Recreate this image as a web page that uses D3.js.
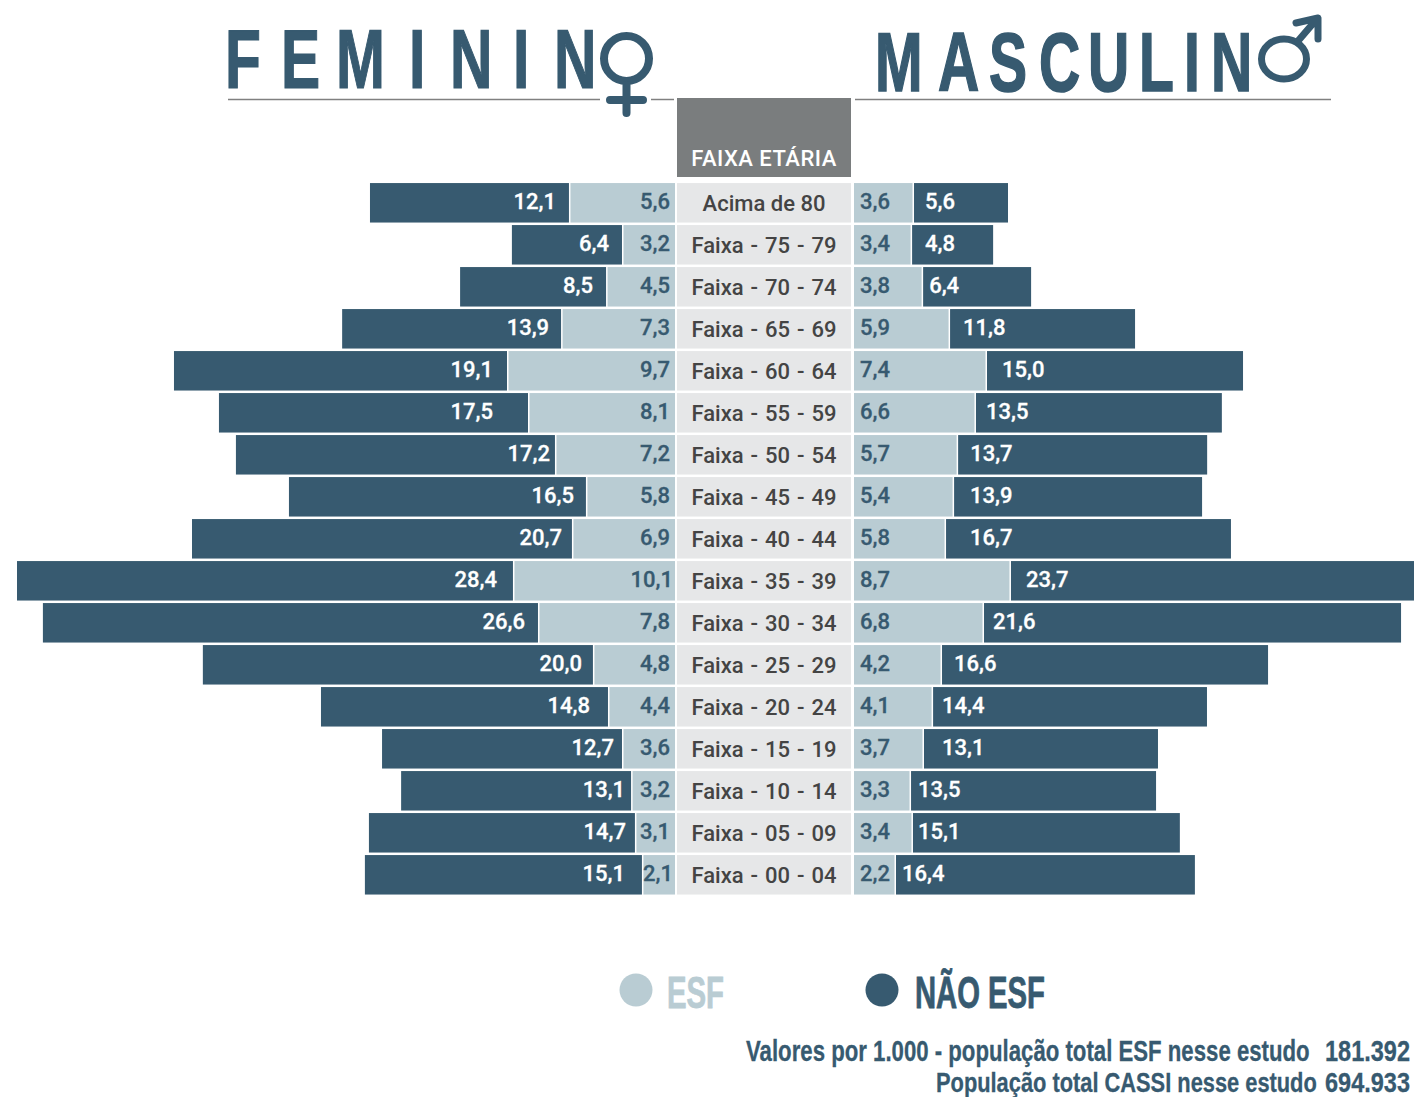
<!DOCTYPE html>
<html>
<head>
<meta charset="utf-8">
<script src="https://cdnjs.cloudflare.com/ajax/libs/d3/7.8.5/d3.min.js"></script>
<style>
  html, body { margin: 0; padding: 0; background: #fff; overflow: hidden; }
  svg { display: block; }
  text { font-family: Roboto, sans-serif; }
  .narrow { font-family: "Liberation Sans Narrow", sans-serif; font-weight: 700; }
</style>
</head>
<body>
<div id="chart"></div>
<script>
const ageGroups = ['Acima de 80', 'Faixa - 75 - 79', 'Faixa - 70 - 74', 'Faixa - 65 - 69', 'Faixa - 60 - 64',
  'Faixa - 55 - 59', 'Faixa - 50 - 54', 'Faixa - 45 - 49', 'Faixa - 40 - 44', 'Faixa - 35 - 39', 'Faixa - 30 - 34',
  'Faixa - 25 - 29', 'Faixa - 20 - 24', 'Faixa - 15 - 19', 'Faixa - 10 - 14', 'Faixa - 05 - 09', 'Faixa - 00 - 04'];

// Printed values
const femEsf = [5.6, 3.2, 4.5, 7.3, 9.7, 8.1, 7.2, 5.8, 6.9, 10.1, 7.8, 4.8, 4.4, 3.6, 3.2, 3.1, 2.1];
const femNaoEsf = [12.1, 6.4, 8.5, 13.9, 19.1, 17.5, 17.2, 16.5, 20.7, 28.4, 26.6, 20.0, 14.8, 12.7, 13.1, 14.7, 15.1];
const masEsf = [3.6, 3.4, 3.8, 5.9, 7.4, 6.6, 5.7, 5.4, 5.8, 8.7, 6.8, 4.2, 4.1, 3.7, 3.3, 3.4, 2.2];
const masNaoEsf = [5.6, 4.8, 6.4, 11.8, 15.0, 13.5, 13.7, 13.9, 16.7, 23.7, 21.6, 16.6, 14.4, 13.1, 13.5, 15.1, 16.4];

// The original bars are not in proportion to their printed numbers,
// so these are the lengths, in the same units.
const femEsfDrawn = [6.06, 3.03, 3.94, 6.51, 9.6, 8.4, 6.86, 5.09, 5.89, 9.26, 7.83, 4.69, 3.83, 3.03, 2.51, 2.29, 1.89];
const femNaoEsfDrawn = [11.37, 6.29, 8.34, 12.51, 19.03, 17.66, 18.23, 16.97, 21.71, 28.34, 28.29, 22.29, 16.4, 13.71, 13.14, 15.2, 15.83];
const masEsfDrawn = [3.43, 3.32, 3.95, 5.49, 7.6, 6.97, 5.95, 5.72, 5.26, 8.97, 7.43, 5.03, 4.52, 4.0, 3.26, 3.37, 2.4];
const masNaoEsfDrawn = [5.37, 4.63, 6.17, 10.57, 14.63, 14.05, 14.23, 14.17, 16.28, 23.7, 23.83, 18.63, 15.65, 13.37, 14.0, 15.25, 17.08];

const legendLabels = ['ESF', 'NÃO ESF'];
// the final O of each title is the gender symbol
const titleFem = 'FEMININ';
const titleMas = 'MASCULIN';
const noteLines = ['Valores por 1.000 - população total ESF nesse estudo', '181.392', 'População total CASSI nesse estudo', '694.933'];

const DARK = '#375a70';
const LIGHT = '#b9ccd3';
const CELL = '#e6e7e8';

const width = 1414;
const height = 1097;

// label gap to the dark bar's inner edge, it changes row by row in the original
const femLabelPad = [13, 13, 13, 12, 14, 35, 5, 12, 10, 16, 13, 11, 18, 8, 6, 9, 17];
const masLabelPad = [11, 13, 6, 13, 15, 10, 12, 16, 24, 15, 9, 12, 9, 18, 7, 5, 6];

const svg = d3.select('#chart')
  .append('svg')
  .attr('width', width)
  .attr('height', height);

const ptBR = d3.formatLocale({decimal: ',', thousands: '.', grouping: [3], currency: ['', '']});
const fmt = ptBR.format('.1f');

const y = d3.scaleBand()
  .domain(ageGroups)
  .range([181.8, 181.8 + 42 * 17])
  .paddingInner(0.06)
  .paddingOuter(0.03);

const xFem = d3.scaleLinear().domain([0, 40]).range([675, -25]);
const xMas = d3.scaleLinear().domain([0, 40]).range([854, 1554]);

const rows = ageGroups.map((name, i) => ({name, i}));

function bars(cls, fill, xOf, wOf) {
  svg.append('g')
    .attr('class', cls)
    .selectAll('rect')
    .data(rows)
    .join('rect')
    .attr('x', xOf)
    .attr('y', (d) => y(d.name))
    .attr('width', wOf)
    .attr('height', y.bandwidth())
    .attr('fill', fill);
}

const GAP = 1.5;
bars('fem-nao', DARK,
  (d) => xFem(femEsfDrawn[d.i] + femNaoEsfDrawn[d.i]),
  (d) => xFem(femEsfDrawn[d.i]) - xFem(femEsfDrawn[d.i] + femNaoEsfDrawn[d.i]));
bars('fem-esf', LIGHT,
  (d) => xFem(femEsfDrawn[d.i]) + GAP,
  (d) => xFem(0) - xFem(femEsfDrawn[d.i]) - GAP);
bars('mas-esf', LIGHT,
  () => xMas(0),
  (d) => xMas(masEsfDrawn[d.i]) - xMas(0) - GAP);
bars('mas-nao', DARK,
  (d) => xMas(masEsfDrawn[d.i]),
  (d) => xMas(masEsfDrawn[d.i] + masNaoEsfDrawn[d.i]) - xMas(masEsfDrawn[d.i]));

// Central column
svg.append('rect')
  .attr('x', 677).attr('y', 98).attr('width', 174).attr('height', 79)
  .attr('fill', '#7a7d7e');
svg.append('text')
  .attr('x', 764).attr('y', 166)
  .attr('text-anchor', 'middle')
  .attr('fill', '#fff')
  .attr('font-size', 22).attr('font-weight', 500)
  .attr('letter-spacing', 0.5)
  .text('FAIXA ETÁRIA');

svg.append('g')
  .selectAll('rect')
  .data(rows)
  .join('rect')
  .attr('x', 677)
  .attr('y', (d) => y(d.name))
  .attr('width', 174)
  .attr('height', y.bandwidth())
  .attr('fill', CELL);

svg.append('g')
  .selectAll('text')
  .data(rows)
  .join('text')
  .attr('x', 764)
  .attr('y', (d) => y(d.name) + 28)
  .attr('text-anchor', 'middle')
  .attr('fill', '#444')
  .attr('font-size', 22).attr('font-weight', 500)
  .attr('word-spacing', (d) => d.i === 0 ? 0 : 1.5)
  .text((d) => d.name);

// Value labels
function labels(fill, anchor, xOf, valueOf) {
  svg.append('g')
    .selectAll('text')
    .data(rows)
    .join('text')
    .attr('x', xOf)
    .attr('y', (d) => y(d.name) + 26)
    .attr('text-anchor', anchor)
    .attr('fill', fill)
    .attr('stroke', fill)
    .attr('stroke-width', 0.3)
    .attr('font-size', 22).attr('font-weight', 500)
    .text(valueOf);
}

labels('#fff', 'end', (d) => xFem(femEsfDrawn[d.i]) - femLabelPad[d.i], (d) => fmt(femNaoEsf[d.i]));
labels(DARK, 'end', (d) => femEsf[d.i] >= 10 || d.i === 16 ? 673 : 670, (d) => fmt(femEsf[d.i]));
labels(DARK, 'start', () => 860, (d) => fmt(masEsf[d.i]));
labels('#fff', 'start', (d) => xMas(masEsfDrawn[d.i]) + masLabelPad[d.i], (d) => fmt(masNaoEsf[d.i]));

// Titles, one x per letter since the fonts here are not the original's
const femLetterX = [225, 281, 336, 409, 450, 513, 554];
const masLetterX = [875, 938, 989, 1039, 1088, 1139, 1184, 1211];

function title(str, xs, baseline, size, sx, weight) {
  svg.append('g')
    .attr('transform', `translate(0,${baseline}) scale(${sx},1)`)
    .append('text')
    .attr('class', 'narrow')
    .attr('fill', DARK)
    .attr('stroke', DARK)
    .attr('stroke-width', weight)
    .attr('font-size', size)
    .attr('x', xs.map((v) => v / sx).join(' '))
    .text(str);
}
title(titleFem, femLetterX, 87.5, 84, 0.7, 1.2);
title(titleMas, masLetterX, 91, 84, 0.68, 1.6);

// Rules under the titles
const rule = [[228, 600], [651, 674], [855, 1331]];
svg.append('g')
  .selectAll('line')
  .data(rule)
  .join('line')
  .attr('x1', (d) => d[0]).attr('x2', (d) => d[1])
  .attr('y1', 99.5).attr('y2', 99.5)
  .attr('stroke', '#808080')
  .attr('stroke-width', 1.5);

// Venus
const venus = svg.append('g')
  .attr('fill', 'none')
  .attr('stroke', DARK)
  .attr('stroke-width', 8)
  .attr('stroke-linecap', 'round');
venus.append('circle').attr('cx', 626.5).attr('cy', 58.5).attr('r', 22.5);
venus.append('path').attr('d', 'M626.5 85V113M610 100H643');

// Mars
const mars = svg.append('g')
  .attr('fill', 'none')
  .attr('stroke', DARK)
  .attr('stroke-width', 7)
  .attr('stroke-linecap', 'round')
  .attr('stroke-linejoin', 'round');
mars.append('ellipse').attr('cx', 1284).attr('cy', 59).attr('rx', 22.5).attr('ry', 20);
mars.append('path').attr('d', 'M1298 41L1316 20M1296 23L1318 18L1318 39');

// squeeze narrow text to the width it has in the original
function fitNarrow(sel, xOf, yOf, widthOf) {
  sel.each(function(d, i) {
    const natural = this.getComputedTextLength();
    d3.select(this).attr('transform', `translate(${xOf(i)},${yOf(i)}) scale(${widthOf(i) / natural},1)`);
  });
}

// Legend
const legendX = [636, 882];
const legendTextX = [667, 915];
const legendColor = [LIGHT, DARK];
const legendWidth = [57, 130];
const legend = svg.append('g')
  .selectAll('g')
  .data(legendLabels)
  .join('g');
legend.append('circle')
  .attr('cx', (d, i) => legendX[i])
  .attr('cy', 990)
  .attr('r', 16.5)
  .attr('fill', (d, i) => legendColor[i]);
legend.append('text')
  .attr('class', 'narrow')
  .attr('font-size', 44)
  .attr('fill', (d, i) => legendColor[i])
  .attr('stroke', (d, i) => legendColor[i])
  .attr('stroke-width', 0.8)
  .text((d) => d)
  .call(fitNarrow, (i) => legendTextX[i], () => 1008, (i) => legendWidth[i]);

// Notes
const noteX = [746, 1325, 936, 1325];
const noteWidth = [564, 85, 381, 85];
const noteY = [1061, 1061, 1091.5, 1091.5];
const noteSize = [29, 29, 28, 28];
svg.append('g')
  .selectAll('text')
  .data(noteLines)
  .join('text')
  .attr('class', 'narrow')
  .attr('font-size', (d, i) => noteSize[i])
  .attr('fill', DARK)
  .attr('stroke', DARK)
  .attr('stroke-width', 0.3)
  .text((d) => d)
  .call(fitNarrow, (i) => noteX[i], (i) => noteY[i], (i) => noteWidth[i]);
</script>
</body>
</html>
